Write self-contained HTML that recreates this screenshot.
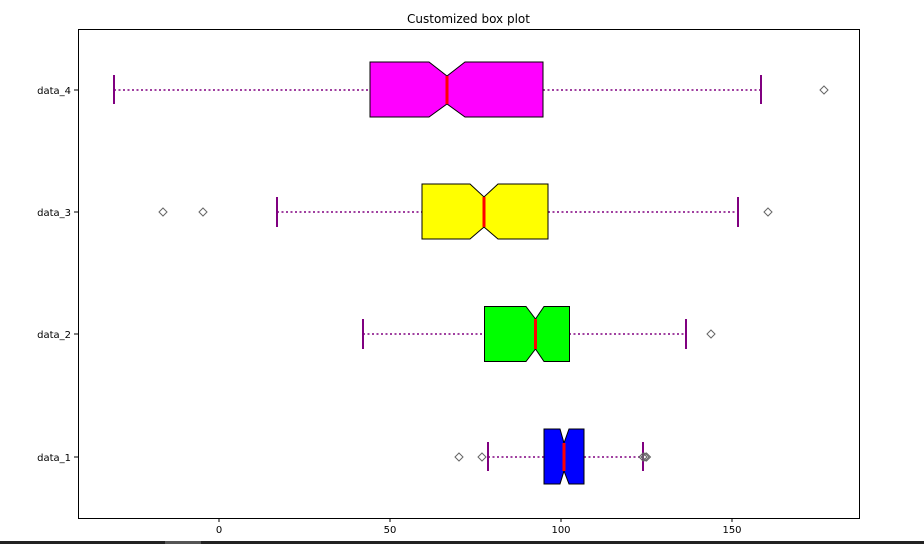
<!DOCTYPE html>
<html><head><meta charset="utf-8"><style>
html,body{margin:0;padding:0;background:#fff;}
svg{display:block;font-family:"DejaVu Sans","Liberation Sans",sans-serif;}
</style></head><body>
<svg width="924" height="544" viewBox="0 0 924 544" xmlns="http://www.w3.org/2000/svg">
<rect width="924" height="544" fill="#fff"/>
<text x="468.5" y="23" font-size="12" text-anchor="middle" fill="#000">Customized box plot</text>
<g stroke="#800080" stroke-width="1.6" stroke-dasharray="2,2.5" fill="none">
<line x1="114" y1="90" x2="370" y2="90"/><line x1="543" y1="90" x2="761" y2="90"/>
<line x1="277" y1="212" x2="422" y2="212"/><line x1="548" y1="212" x2="738" y2="212"/>
<line x1="363" y1="334" x2="484" y2="334"/><line x1="569" y1="334" x2="686" y2="334"/>
<line x1="488" y1="457" x2="544" y2="457"/><line x1="584" y1="457" x2="643" y2="457"/>
</g>
<g stroke="#800080" stroke-width="2">
<line x1="114" y1="75" x2="114" y2="104"/><line x1="761" y1="75" x2="761" y2="104"/>
<line x1="277" y1="197" x2="277" y2="227"/><line x1="738" y1="197" x2="738" y2="227"/>
<line x1="363" y1="319" x2="363" y2="349"/><line x1="686" y1="319" x2="686" y2="349"/>
<line x1="488" y1="442" x2="488" y2="471"/><line x1="643" y1="442" x2="643" y2="471"/>
</g>
<g stroke="#000" stroke-width="1">
<polygon fill="#ff00ff" points="370,62 429,62 447,76 465,62 543,62 543,117 465,117 447,104 429,117 370,117"/>
<polygon fill="#ffff00" points="422,184 470,184 484,197 498,184 548,184 548,239 498,239 484,227 470,239 422,239"/>
<polygon fill="#00ff00" points="484.5,306.5 526,306.5 535.5,319 544,306.5 569.5,306.5 569.5,361.5 544,361.5 535.5,349 526,361.5 484.5,361.5"/>
<polygon fill="#0000ff" points="544,429 560,429 564,443 569,429 584,429 584,484 569,484 564,471 560,484 544,484"/>
</g>
<g stroke="#ff0000" stroke-width="3">
<line x1="447" y1="76" x2="447" y2="104"/>
<line x1="484" y1="197" x2="484" y2="227"/>
<line x1="535.5" y1="319" x2="535.5" y2="349"/>
<line x1="564" y1="443" x2="564" y2="471"/>
</g>
<g stroke="#666" stroke-width="1" fill="none">
<path d="M824,86 l4,4 l-4,4 l-4,-4z"/>
<path d="M163,208 l4,4 l-4,4 l-4,-4z"/><path d="M203,208 l4,4 l-4,4 l-4,-4z"/><path d="M768,208 l4,4 l-4,4 l-4,-4z"/>
<path d="M711,330 l4,4 l-4,4 l-4,-4z"/>
<path d="M459,453 l4,4 l-4,4 l-4,-4z"/><path d="M482,453 l4,4 l-4,4 l-4,-4z"/>
<path d="M643,453 l4,4 l-4,4 l-4,-4z"/><path d="M645,453 l4,4 l-4,4 l-4,-4z"/><path d="M646.5,453 l4,4 l-4,4 l-4,-4z"/>
</g>
<rect x="78.5" y="29.5" width="781" height="489" fill="none" stroke="#000" stroke-width="1"/>
<g stroke="#000" stroke-width="1">
<line x1="219" y1="518" x2="219" y2="522"/><line x1="390" y1="518" x2="390" y2="522"/>
<line x1="561" y1="518" x2="561" y2="522"/><line x1="732" y1="518" x2="732" y2="522"/>
<line x1="74" y1="90" x2="78" y2="90"/><line x1="74" y1="212" x2="78" y2="212"/>
<line x1="74" y1="334" x2="78" y2="334"/><line x1="74" y1="457" x2="78" y2="457"/>
</g>
<g font-size="10" fill="#000" text-anchor="middle">
<text x="219" y="533">0</text><text x="390" y="533">50</text>
<text x="561" y="533">100</text><text x="732" y="533">150</text>
</g>
<g font-size="10" fill="#000" text-anchor="end">
<text x="71" y="94">data_4</text><text x="71" y="216">data_3</text>
<text x="71" y="338">data_2</text><text x="71" y="461">data_1</text>
</g>
<rect x="0" y="541" width="924" height="3" fill="#222"/>
<rect x="165" y="541" width="36" height="3" fill="#555"/>
</svg>
</body></html>
